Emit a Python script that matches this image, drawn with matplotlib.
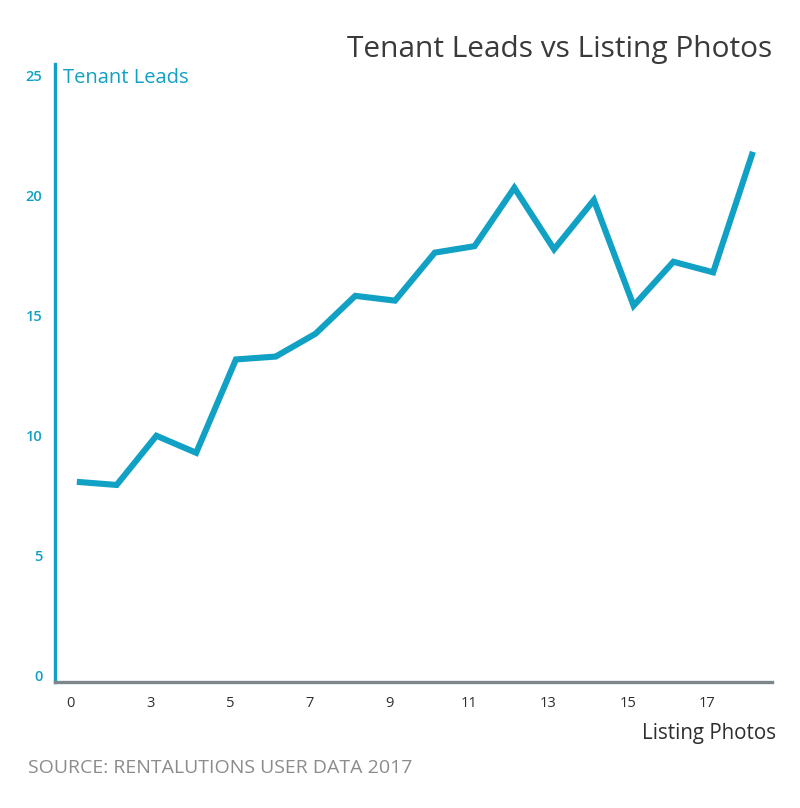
import matplotlib
matplotlib.use("Agg")
import matplotlib.pyplot as plt
import numpy as np

# Data
listing_photos = [0, 2, 3, 4, 5, 6, 7, 8, 9, 10, 11, 12, 13, 14, 15, 16, 17, 18]
tenant_leads = [8.05, 7.92, 9.97, 9.26, 13.15, 13.27, 14.22, 15.8, 15.6,
                17.6, 17.87, 20.3, 17.74, 19.79, 15.39, 17.22, 16.78, 21.8]
x_tick_labels = ["0", "3", "5", "7", "9", "11", "13", "15", "17"]
y_ticks = [0, 5, 10, 15, 20, 25]

title = "Tenant Leads vs Listing Photos"
y_title = "Tenant Leads"
x_title = "Listing Photos"
source = "SOURCE: RENTALUTIONS USER DATA 2017"

BLUE = "#11a1c4"
plt.rcParams['font.family'] = ['Open Sans', 'DejaVu Sans']

fig = plt.figure(figsize=(8, 8.08), dpi=100)
ax = fig.add_axes([55/800, 1-682/808, (772-55)/800, (682-64)/808])

idx = np.arange(len(listing_photos))
ax.plot(idx, tenant_leads, color=BLUE, lw=4.4, solid_joinstyle='miter',
        solid_capstyle='butt')

ax.set_xlim(-0.55, len(idx) - 0.52)
ax.set_ylim(-0.29, 25.46)

for s in ["top", "right"]:
    ax.spines[s].set_visible(False)
ax.spines["left"].set_color(BLUE)
ax.spines["left"].set_linewidth(2.4)
ax.spines["bottom"].set_color("#7d868b")
ax.spines["bottom"].set_linewidth(2.4)

ax.set_yticks(y_ticks)
ax.set_yticklabels([str(v) for v in y_ticks])
ax.tick_params(axis='y', length=0, pad=9, labelsize=10.5, labelcolor=BLUE)
for lab in ax.get_yticklabels():
    lab.set_fontweight('semibold')

xt = idx[::2][:len(x_tick_labels)] - 0.15
ax.set_xticks(xt)
ax.set_xticklabels(x_tick_labels)
ax.tick_params(axis='x', length=0, pad=10, labelsize=10.5, labelcolor="#2e2e2e")
for lab in ax.get_xticklabels():
    lab.set_fontweight('medium')

fig.text(772/800, 1-50/808, title, ha='right', va='center', fontsize=21.5,
         color="#3a3a3a")
fig.text(63/800, 1-78/808, y_title, ha='left', va='center', fontsize=14.5,
         color=BLUE)
fig.text(776/800, 1-734/808, x_title, ha='right', va='center', fontsize=14.8,
         color="#2e2e2e")
fig.text(28/800, 1-768/808, source, ha='left', va='center', fontsize=14,
         color="#8c8c8c")

fig.savefig("out.png", dpi=100, facecolor="white")
